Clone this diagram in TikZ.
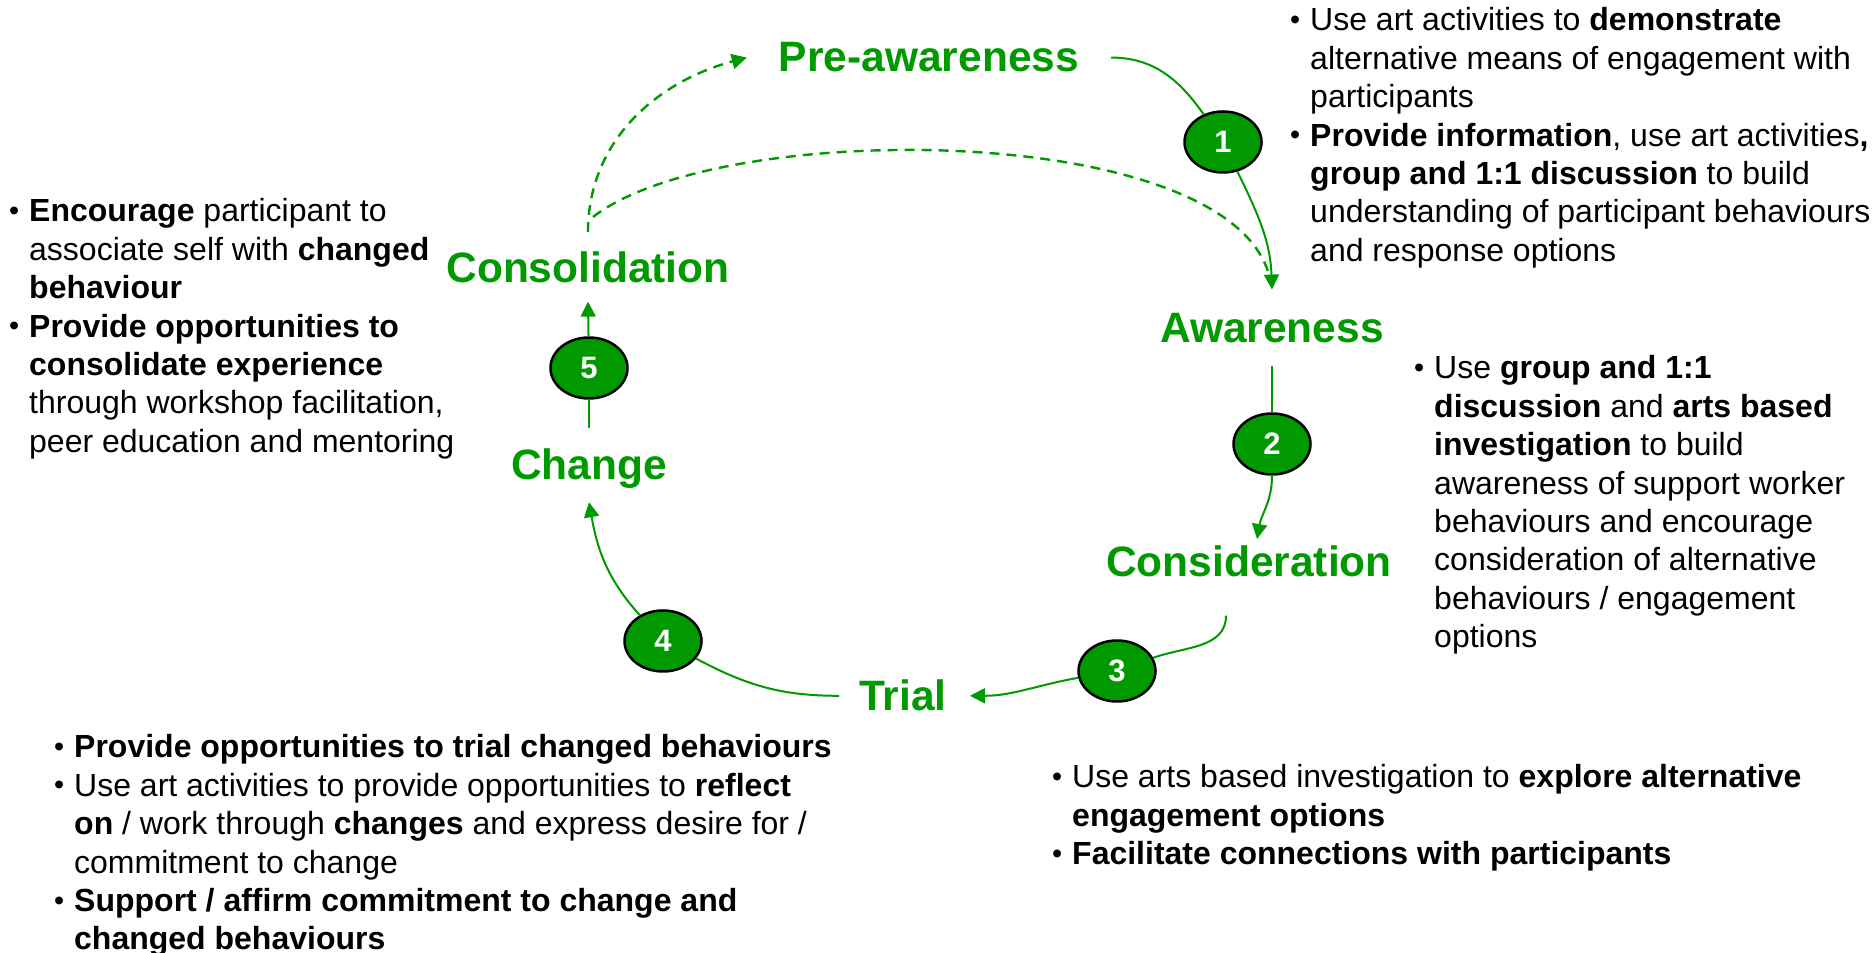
\documentclass[tikz,border=0pt]{standalone}
\usepackage{fontspec}
\setmainfont{Liberation Sans}
\usetikzlibrary{arrows.meta,shapes.geometric}
\definecolor{cyclegreen}{RGB}{0,153,0}
\newcommand{\bul}{\makebox[20pt][l]{\raisebox{1.5pt}{\scalebox{0.9}{\textbullet}}}}
\newcommand{\ind}{\hspace*{20pt}}
\begin{document}
\begin{tikzpicture}[x=1pt,y=1pt,
    stage/.style={anchor=base,inner sep=0pt,text=cyclegreen,
      font=\fontsize{42.5}{48}\selectfont\bfseries},
    numdot/.style={ellipse,draw=black,line width=2.5pt,fill=cyclegreen,
      minimum width=77pt,minimum height=61pt,inner sep=0pt,text=white,
      font=\fontsize{31}{33}\selectfont\bfseries},
    flow/.style={draw=cyclegreen,line width=2pt},
    arr/.style={-{Triangle[length=15pt,width=15pt]}},
    loopback/.style={flow,line width=2.4pt,dash pattern=on 10pt off 7pt},
    notes/.style={anchor=base west,inner sep=0pt,
      font=\fontsize{32}{38.4}\selectfont}]
  \useasboundingbox (0,0) rectangle (1874,953);

  % stages of the cycle
  \node[stage] (pre) at (929,881) {Pre-awareness};
  \node[stage] (aware) at (1272,610) {Awareness};
  \node[stage] (consid) at (1249,376) {Consideration};
  \node[stage] (trial) at (903,242) {Trial};
  \node[stage] (change) at (589,473) {Change};
  \node[stage] (consol) at (588,670) {Consolidation};

  % numbered steps
  \node[numdot] (n1) at (1223,811) {1};
  \node[numdot] (n2) at (1272,509) {2};
  \node[numdot] (n3) at (1117,282) {3};
  \node[numdot] (n4) at (663,312) {4};
  \node[numdot] (n5) at (589,585) {5};

  \draw[flow] ([xshift=32pt]pre.east) to[out=0,in=125] (n1);
  \draw[flow,arr] (n1) to[out=-64,in=92] ([yshift=24pt]aware.north);
  \draw[flow] ([yshift=-22pt]aware.south) -- (n2);
  \draw[flow,arr] (n2) to[out=-90,in=80] ([xshift=8pt,yshift=7pt]consid.north);
  \draw[flow] ([xshift=-23pt,yshift=-38pt]consid.south) to[out=-90,in=20] (n3);
  \draw[flow,arr] (n3) to[out=190,in=0] ([xshift=23pt]trial.east);
  \draw[flow] ([xshift=-20pt]trial.west) to[out=180,in=-28] (n4);
  \draw[flow,arr] (n4) to[out=132,in=-80] ([yshift=-13pt]change.south);
  \draw[flow] ([yshift=21pt]change.north) -- (n5);
  \draw[flow,arr] (n5) -- ([yshift=-18pt]consol.south);
  % going round again
  \draw[loopback,arr] ([yshift=20pt]consol.north) to[out=90,in=195] ([xshift=-32pt]pre.west);
  \draw[loopback] ([xshift=5pt,yshift=35pt]consol.north) to[out=38,in=108,looseness=0.6] ([xshift=-4pt,yshift=42pt]aware.north);

  % notes for each step
  \node[notes] (note1) at (1290,922) {\begin{tabular}[t]{@{}l@{}}
    \bul Use art activities to \textbf{demonstrate}\\
    \ind alternative means of engagement with\\
    \ind participants\\
    \bul \textbf{Provide information}, use art activities\textbf{,}\\
    \ind \textbf{group and 1:1 discussion} to build\\
    \ind understanding of participant behaviours\\
    \ind and response options
  \end{tabular}};
  \node[notes] (note2) at (1414,574) {\begin{tabular}[t]{@{}l@{}}
    \bul Use \textbf{group and 1:1}\\
    \ind \textbf{discussion} and \textbf{arts based}\\
    \ind \textbf{investigation} to build\\
    \ind awareness of support worker\\
    \ind behaviours and encourage\\
    \ind consideration of alternative\\
    \ind behaviours / engagement\\
    \ind options
  \end{tabular}};
  \node[notes] (note3) at (1052,165) {\begin{tabular}[t]{@{}l@{}}
    \bul Use arts based investigation to \textbf{explore alternative}\\
    \ind \textbf{engagement options}\\
    \bul \textbf{Facilitate connections with participants}
  \end{tabular}};
  \node[notes] (note4) at (54,195) {\begin{tabular}[t]{@{}l@{}}
    \bul \textbf{Provide opportunities to trial changed behaviours}\\
    \bul Use art activities to provide opportunities to \textbf{reflect}\\
    \ind \textbf{on} / work through \textbf{changes} and express desire for /\\
    \ind commitment to change\\
    \bul \textbf{Support / affirm commitment to change and}\\
    \ind \textbf{changed behaviours}
  \end{tabular}};
  \node[notes] (note5) at (9,731) {\begin{tabular}[t]{@{}l@{}}
    \bul \textbf{Encourage} participant to\\
    \ind associate self with \textbf{changed}\\
    \ind \textbf{behaviour}\\
    \bul \textbf{Provide opportunities to}\\
    \ind \textbf{consolidate experience}\\
    \ind through workshop facilitation,\\
    \ind peer education and mentoring
  \end{tabular}};
\end{tikzpicture}
\end{document}
